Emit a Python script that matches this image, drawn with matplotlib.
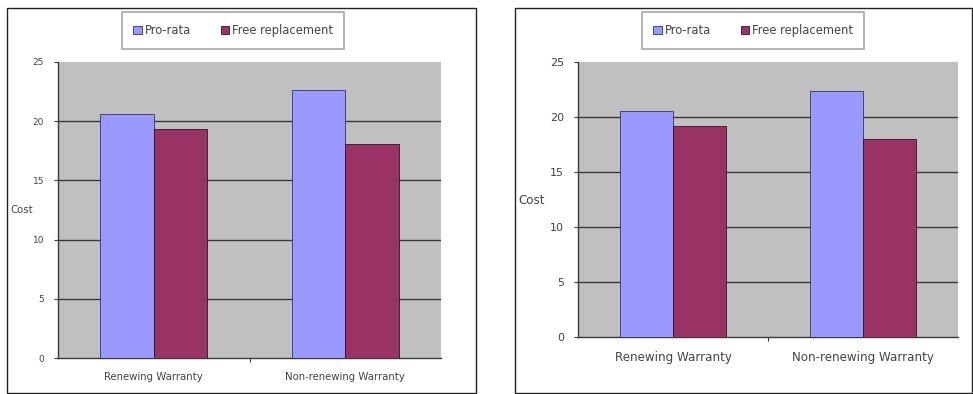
import matplotlib.pyplot as plt
from matplotlib.patches import Rectangle, Patch

# data
categories = ["Renewing Warranty", "Non-renewing Warranty"]
series_names = ["Pro-rata", "Free replacement"]
left_pro = [20.6, 22.6]
left_free = [19.3, 18.1]
right_pro = [20.5, 22.4]
right_free = [19.2, 18.0]
y_ticks = [0, 5, 10, 15, 20, 25]

W, H = 973, 394
blue = "#9999FF"
wine = "#993366"
grey = "#C0C0C0"
dark = "#3a3a3a"

fig = plt.figure(figsize=(W / 100, H / 100), dpi=100)
plt.rcParams['font.family'] = ['DejaVu Sans']


def px(x0, y0, x1, y1):
    # pixel box (top-left origin) -> figure fraction rect
    return [x0 / W, 1 - y1 / H, (x1 - x0) / W, (y1 - y0) / H]


def panel(frame, area, legbox, pro, free, cost_xy, fs, xfs, lfs, xpad):
    # outer frame
    fx0, fy0, fx1, fy1 = frame
    fig.patches.append(Rectangle((fx0 / W, 1 - fy1 / H), (fx1 - fx0) / W, (fy1 - fy0) / H,
                                 transform=fig.transFigure, fill=False,
                                 edgecolor="#222222", linewidth=1.0))
    ax = fig.add_axes(px(*area))
    ax.set_facecolor(grey)
    xs = range(len(categories))
    w = 0.28
    ax.bar([x - w / 2 for x in xs], pro, w, color=blue, edgecolor="#333366",
           linewidth=0.6, zorder=3)
    ax.bar([x + w / 2 for x in xs], free, w, color=wine, edgecolor="#331122",
           linewidth=0.6, zorder=3)
    ax.set_xlim(-0.5, 1.5)
    ax.set_ylim(0, 25)
    # gridlines below the top edge only
    for t in y_ticks[1:-1]:
        ax.axhline(t, color=dark, linewidth=1.0, zorder=1)
    ax.set_yticks(y_ticks)
    ax.set_yticklabels([str(t) for t in y_ticks], fontsize=fs, color="#444444")
    ax.set_xticks(list(xs))
    ax.set_xticklabels(categories, fontsize=xfs, color="#444444")
    ax.tick_params(axis="x", length=0, pad=xpad)
    ax.tick_params(axis="y", length=3, width=0.8, color=dark, pad=7)
    ax.set_xticks([0.5], minor=True)
    ax.tick_params(axis="x", which="minor", length=3, width=0.8, color=dark)
    for s in ["top", "right"]:
        ax.spines[s].set_visible(False)
    for s in ["left", "bottom"]:
        ax.spines[s].set_color(dark)
        ax.spines[s].set_linewidth(1.0)
    fig.text(cost_xy[0] / W, 1 - cost_xy[1] / H, "Cost", fontsize=xfs,
             color="#444444", va="center", ha="left")
    lx0, ly0, lx1, ly1 = legbox
    handles = [Patch(facecolor=blue, edgecolor="#333366", linewidth=0.6),
               Patch(facecolor=wine, edgecolor="#331122", linewidth=0.6)]
    leg = fig.legend(handles, series_names, loc="center",
                     bbox_to_anchor=((lx0 + lx1) / 2 / W, 1 - (ly0 + ly1) / 2 / H),
                     ncol=2, fontsize=lfs, frameon=True, fancybox=False,
                     handlelength=0.7, handleheight=0.7, handletextpad=0.25,
                     columnspacing=2.6, borderpad=1.0, borderaxespad=0)
    leg.get_frame().set_edgecolor("#999999")
    leg.get_frame().set_linewidth(1.3)
    for t in leg.get_texts():
        t.set_color("#444444")
    return ax


panel((7, 8, 476, 393), (58, 62, 441, 358), (118, 11, 348, 50),
      left_pro, left_free, (10, 210), 6.5, 7.3, 8.3, 10)
panel((515, 8, 972, 393), (578, 62, 958, 337), (638, 11, 868, 50),
      right_pro, right_free, (518, 200), 8, 8.6, 8.3, 10)

fig.savefig("out.png", dpi=100, facecolor="white")
